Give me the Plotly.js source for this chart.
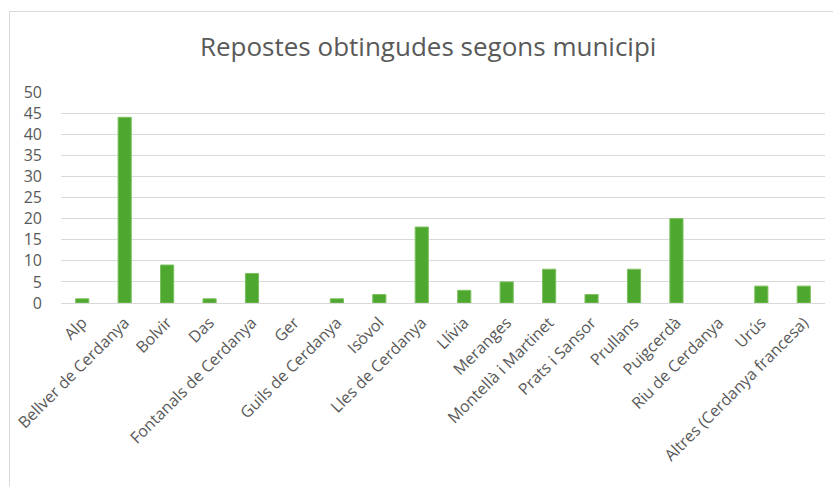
<!DOCTYPE html>
<html>
<head>
<meta charset="utf-8">
<script src="https://cdn.plot.ly/plotly-3.0.1.min.js"></script>
<style>
  html, body { margin: 0; padding: 0; background: #fff; }
  #frame { position: absolute; left: 9px; top: 11px; width: 900px; height: 600px; border-left: 1px solid #d9d9d9; border-top: 1px solid #d9d9d9; pointer-events: none; }
  #chart { position: absolute; left: 0; top: 0; width: 833px; height: 486px; }
</style>
</head>
<body>
<div id="chart"></div>
<div id="frame"></div>
<script>
const categories = ["Alp", "Bellver de Cerdanya", "Bolvir", "Das", "Fontanals de Cerdanya", "Ger", "Guils de Cerdanya", "Isòvol", "Lles de Cerdanya", "Llívia", "Meranges", "Montellà i Martinet", "Prats i Sansor", "Prullans", "Puigcerdà", "Riu de Cerdanya", "Urús", "Altres (Cerdanya francesa)"];
const responses = [1, 44, 9, 1, 7, 0, 1, 2, 18, 3, 5, 8, 2, 8, 20, 0, 4, 4];
const yTicks = [0, 5, 10, 15, 20, 25, 30, 35, 40, 45, 50];
const chartTitle = "Repostes obtingudes segons municipi";

const fontFamily = "'Open Sans', 'Liberation Sans', sans-serif";

Plotly.newPlot('chart', [{
  type: 'bar',
  x: categories,
  y: responses,
  marker: {
    color: '#4EA72E',
    line: { color: '#7DC160', width: responses.map(v => v > 0 ? 1 : 0) }
  },
  width: 0.31,
  hoverinfo: 'x+y'
}], {
  width: 833,
  height: 486,
  margin: { l: 61, r: 8, t: 92, b: 183 },
  paper_bgcolor: 'rgba(0,0,0,0)',
  plot_bgcolor: '#fff',
  showlegend: false,
  title: {
    text: chartTitle,
    font: { family: fontFamily, size: 26, color: '#595959' },
    x: 0.514, xanchor: 'center',
    y: 0.903, yanchor: 'middle'
  },
  xaxis: {
    type: 'category',
    tickangle: -45,
    tickfont: { family: fontFamily, size: 16, color: '#595959' },
    showgrid: false,
    showline: true,
    linecolor: '#d9d9d9',
    linewidth: 1,
    ticks: '',
    ticklabelstandoff: 3,
    zeroline: false,
    automargin: false
  },
  yaxis: {
    range: [0, 50],
    tickvals: yTicks,
    ticktext: yTicks.map(String),
    tickfont: { family: fontFamily, size: 16, color: '#595959' },
    showgrid: true,
    gridcolor: '#d9d9d9',
    gridwidth: 1,
    zeroline: false,
    showline: false,
    ticks: '',
    ticklabelstandoff: 18,
    automargin: false
  }
}, { displayModeBar: false, staticPlot: true });
</script>
</body>
</html>
